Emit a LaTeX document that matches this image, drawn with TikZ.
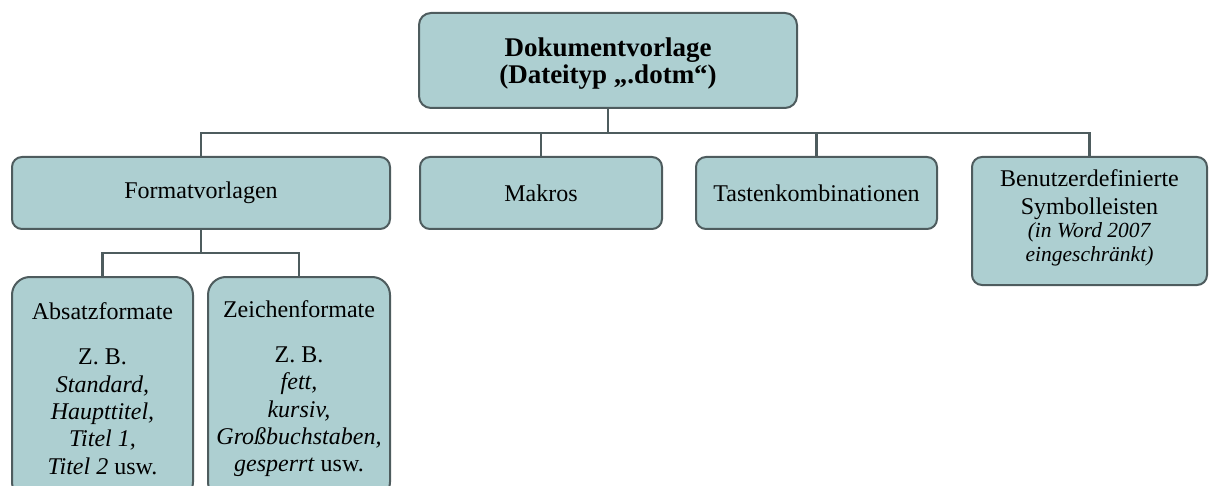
\documentclass[tikz,border=0pt]{standalone}
\usepackage{fontspec}
\setmainfont{Liberation Serif}
\usepackage{xcolor}
\usepackage{tikz}
\definecolor{boxteal}{RGB}{173,207,209}
\definecolor{boxedge}{RGB}{78,92,94}

\begin{document}
\begin{tikzpicture}[x=1pt, y=-1pt,
    box/.style={draw=boxedge, line width=2pt, fill=boxteal, rounded corners=10pt,
      align=center, inner sep=0pt, font=\fontsize{24}{27.3}\selectfont},
    link/.style={draw=boxedge, line width=2.5pt}]
    \useasboundingbox (0,0) rectangle (1209,486);
    \clip (0,0) rectangle (1209,486);
    % Top box
    \node[box, minimum width=378pt, minimum height=95pt, rounded corners=12pt, text depth=-4pt,
      font=\bfseries\fontsize{27}{27}\selectfont] (tmpl) at (608,60.5)
      {Dokumentvorlage\\(Dateityp „.dotm“)};
    % Second row
    \node[box, minimum width=378pt, minimum height=72pt] (fmt) at (201,193) {Formatvorlagen};
    \node[box, minimum width=242pt, minimum height=72pt] (mak) at (541,193) {Makros};
    \node[box, minimum width=241pt, minimum height=72pt] (tast) at (816.5,193) {Tastenkombinationen};
    \node[box, minimum width=235pt, minimum height=128pt, text depth=11pt] (symb) at (1089.5,221)
      {Benutzerdefinierte\\[0.7pt]Symbolleisten\\[-4.3pt]
       \textit{\fontsize{21.5}{23}\selectfont (in Word 2007}\\[-3.3pt]
       \textit{\fontsize{21.5}{23}\selectfont eingeschränkt)}};
    % Third row
    \node[box, minimum width=181pt, minimum height=223pt, rounded corners=18pt] (abs) at (102.5,388.5)
      {Absatzformate\\[18pt]Z. B.\\\textit{Standard,}\\\textit{Haupttitel,}\\\textit{Titel 1,}\\\textit{Titel 2} usw.};
    \node[box, minimum width=182pt, minimum height=223pt, rounded corners=18pt] (zei) at (299,388.5)
      {Zeichenformate\\[18pt]Z. B.\\\textit{fett,}\\\textit{kursiv,}\\\textit{Großbuchstaben,}\\\textit{gesperrt} usw.};
    % Connectors
    \coordinate (hub) at (608,133);
    \draw[link] (tmpl.south) -- (hub);
    \draw[link] (hub) -| (fmt.north);
    \draw[link] (hub) -| (mak.north);
    \draw[link] (hub) -| (tast.north);
    \draw[link] (hub) -| (symb.north);
    \coordinate (subhub) at (201,253);
    \draw[link] (fmt.south) -- (subhub);
    \draw[link] (subhub) -| (abs.north);
    \draw[link] (subhub) -| (zei.north);
\end{tikzpicture}
\end{document}
